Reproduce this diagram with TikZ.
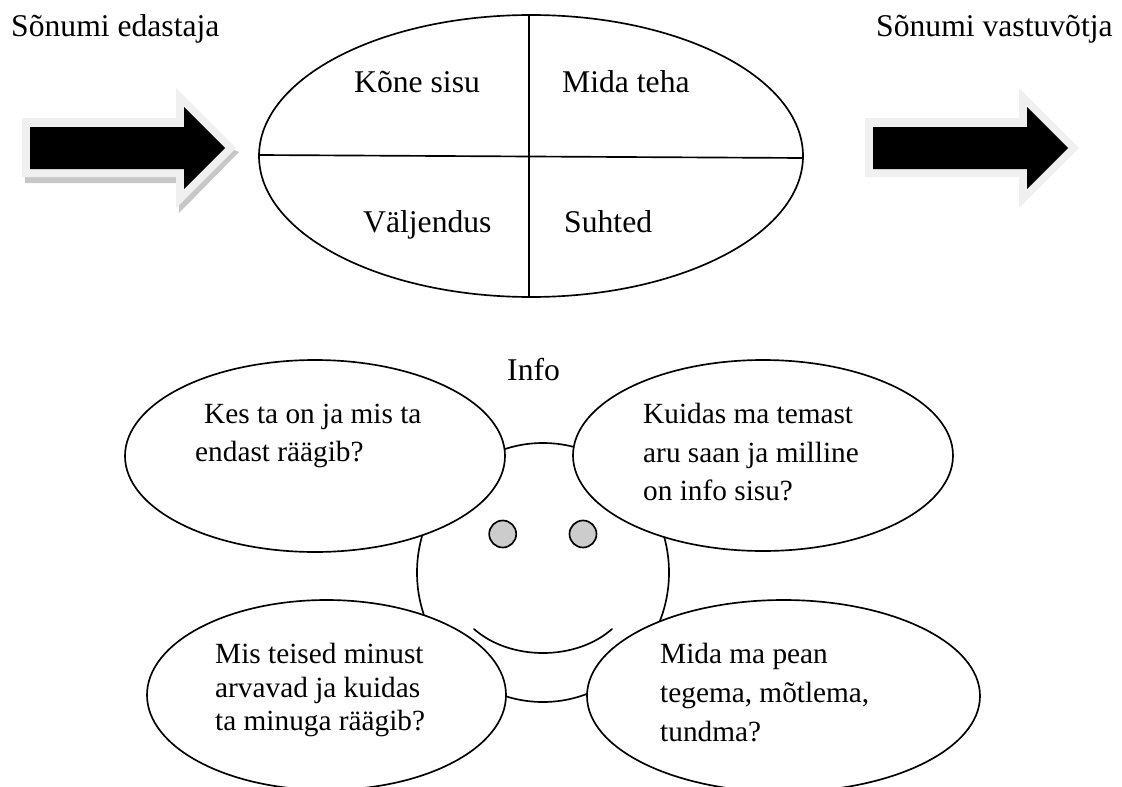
\documentclass[tikz,border=0pt]{standalone}
\usepackage{fontspec}
\setmainfont{Liberation Serif}
\tikzset{
	lbl/.style={inner sep=0pt, anchor=base west, font=\fontsize{25}{29}\selectfont},
	biglbl/.style={inner sep=0pt, anchor=base west, font=\fontsize{27}{31}\selectfont},
	outline/.style={line width=0.05cm, line cap=round},
	bubble/.style={outline, fill=white},
	eye/.style={outline, fill=black!20},
	glow/.style={fill=black!6},
	shadow/.style={fill=black!22},
}
\begin{document}
\begin{tikzpicture}[x=0.03cm, y=-0.03cm]
		%%%%% START %%%%%
		\useasboundingbox (0, 0) rectangle (1122, 787);
		\clip (0, 0) rectangle (1122, 787);
		
		% arrows
		\fill[shadow] (25, 160) -- (190, 160) -- (230, 148) -- (239, 152) -- (179, 213) -- (178, 183) -- (25, 183) -- cycle;
		\fill[glow] (22, 118) -- (176, 118) -- (176, 88) -- (236, 148) -- (176, 208) -- (176, 177) -- (22, 177) -- cycle;
		\fill[black] (30, 127) -- (184, 127) -- (184, 107) -- (225, 148) -- (184, 189) -- (184, 169) -- (30, 169) -- cycle;
		\fill[glow] (865, 118) -- (1019, 118) -- (1019, 88) -- (1079, 148) -- (1019, 208) -- (1019, 177) -- (865, 177) -- cycle;
		\fill[black] (873, 127) -- (1027, 127) -- (1027, 107) -- (1068, 148) -- (1027, 189) -- (1027, 169) -- (873, 169) -- cycle;
		
		% top ellipse
		\draw[outline] (531, 156) ellipse (272 and 141);
		\draw[outline] (259, 155) -- (803, 158);
		\draw[outline] (529, 15) -- (529, 297);
		
		\node[biglbl] (sender) at (11, 37) {Sõnumi edastaja};
		\node[biglbl] (receiver) at (876, 37) {Sõnumi vastuvõtja};
		\node[biglbl] (content) at (354, 93) {Kõne sisu};
		\node[biglbl] (todo) at (562, 93) {Mida teha};
		\node[biglbl] (expression) at (363, 232) {Väljendus};
		\node[biglbl] (relations) at (564, 232) {Suhted};
		\node[biglbl] (info) at (507, 380) {Info};
		
		% face
		\draw[outline] (543, 572.5) ellipse (126 and 129.5);
		\draw[eye] (502.7, 534) circle (13.5);
		\draw[eye] (583, 534) circle (13.5);
		\draw[outline] (474, 629) .. controls (510, 661) and (576, 661) .. (612, 629);
		
		% bubbles
		\draw[bubble] (315, 456) ellipse (190 and 96);
		\draw[bubble] (763, 455.5) ellipse (190 and 95.5);
		\draw[bubble] (326.5, 695) ellipse (179.5 and 95);
		\draw[bubble] (783.5, 696) ellipse (196.5 and 96);
		
		\node[lbl] (who) at (204, 423) {Kes ta on ja mis ta};
		\node[lbl] (who2) at (195, 461) {endast räägib?};
		\node[lbl] (how) at (643, 423) {Kuidas ma temast};
		\node[lbl] (how2) at (643, 462) {aru saan ja milline};
		\node[lbl] (how3) at (643, 500) {on info sisu?};
		\node[lbl] (others) at (215, 663) {Mis teised minust};
		\node[lbl] (others2) at (215, 697) {arvavad ja kuidas};
		\node[lbl] (others3) at (215, 730) {ta minuga räägib?};
		\node[lbl] (must) at (660, 663) {Mida ma pean};
		\node[lbl] (must2) at (660, 702) {tegema, mõtlema,};
		\node[lbl] (must3) at (660, 741) {tundma?};
		%%%%% END %%%%%
	\end{tikzpicture}
\end{document}
